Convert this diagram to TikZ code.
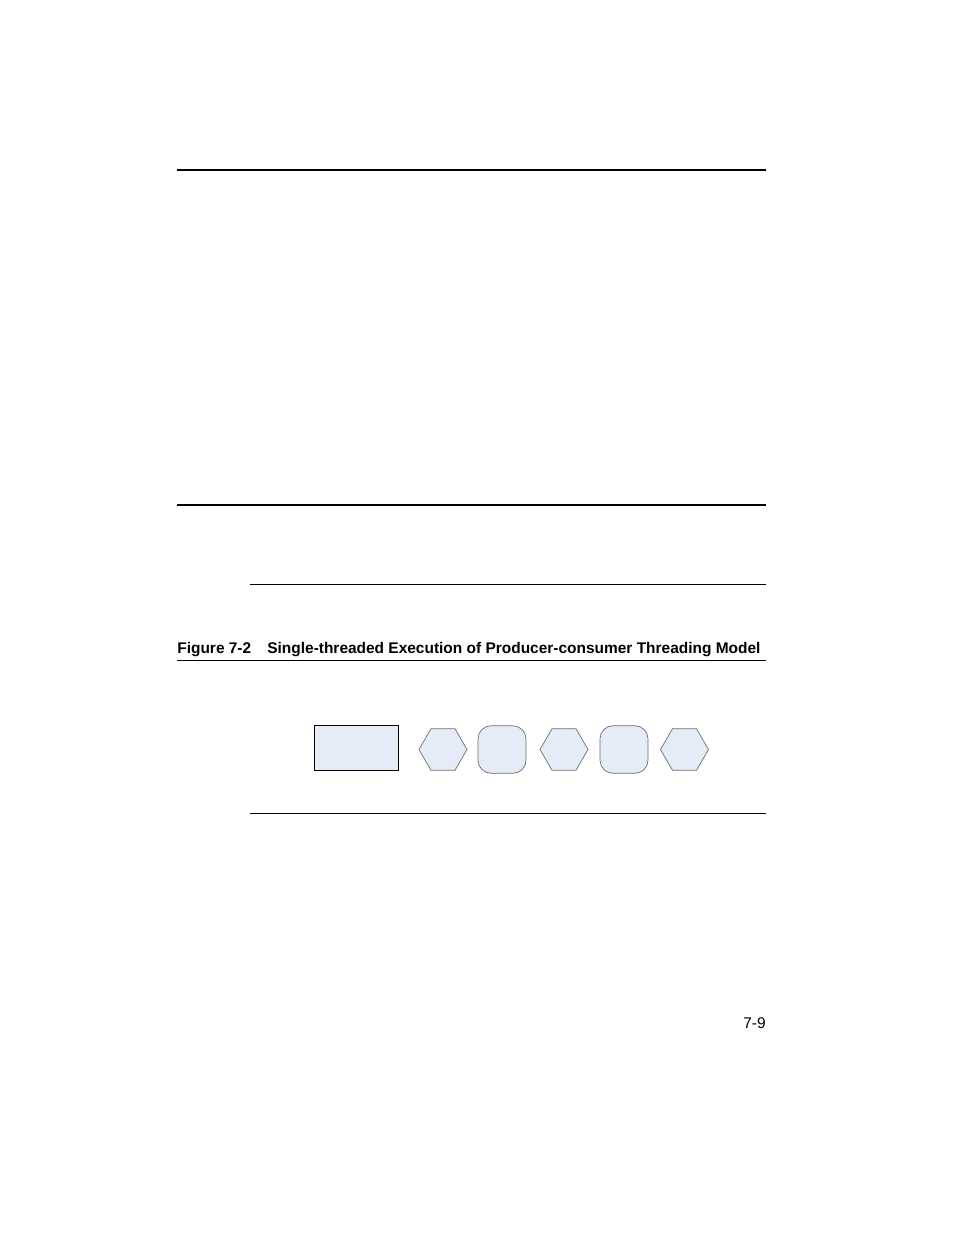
\documentclass[tikz,border=0pt]{standalone}
\usepackage{fontspec}
\setmainfont{Liberation Sans}
\usetikzlibrary{shapes.geometric}
\definecolor{shapefill}{HTML}{E6ECF7}
\definecolor{shapeline}{HTML}{6E6E6E}
\begin{document}
\begin{tikzpicture}[x=0.02cm,y=-0.02cm,
	rule/.style={line width=1.15pt},
	hairline/.style={line width=0.45pt},
	hexa/.style={regular polygon,regular polygon sides=6,draw=shapeline,line width=0.4pt,
		fill=shapefill,minimum size=0.96cm,inner sep=0pt},
	roundbox/.style={rectangle,rounded corners=0.26cm,draw=shapeline,line width=0.4pt,
		fill=shapefill,minimum width=0.96cm,minimum height=0.95cm,inner sep=0pt},
	capt/.style={font=\fontsize{8.8}{11}\selectfont\bfseries,anchor=base west,inner sep=0pt},
	folio/.style={font=\fontsize{8.8}{11}\selectfont,anchor=base east,inner sep=0pt}]
	\useasboundingbox (0,0) rectangle (954,1235);
	% page rules
	\draw[rule]
	(177,170) -- (766,170);
	\draw[rule]
	(177,505) -- (766,505);
	\draw[hairline]
	(250,584) -- (766,584);
	% caption
	\node[capt] (fignum) at (177,653) {Figure 7-2};
	\node[capt] (figtitle) at (267,653) {Single-threaded Execution of Producer-consumer Threading Model};
	\draw[hairline]
	(177,660) -- (766,660);
	% shapes
	\node[rectangle,draw=black,line width=0.5pt,fill=shapefill,minimum width=1.68cm,
		minimum height=0.9cm,inner sep=0pt] (task) at (356,747.5) {};
	\node[hexa] (hexA) at (443,749.5) {};
	\node[roundbox] (boxA) at (502,749.5) {};
	\node[hexa] (hexB) at (564,749.5) {};
	\node[roundbox] (boxB) at (624,749.5) {};
	\node[hexa] (hexC) at (684.5,749.5) {};
	\draw[hairline]
	(250,813) -- (766,813);
	% page number
	\node[folio] (pagenum) at (766,1028) {7-9};
\end{tikzpicture}
\end{document}
